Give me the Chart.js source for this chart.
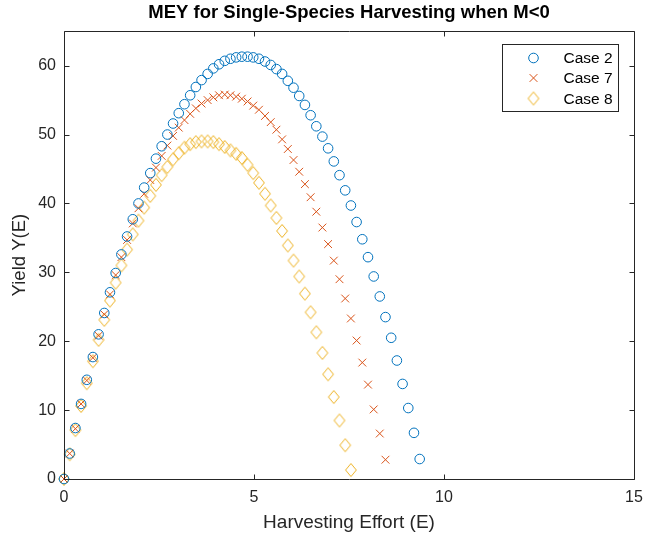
<!DOCTYPE html>
<html>
<head>
<meta charset="utf-8">
<script src="https://cdn.jsdelivr.net/npm/chart.js@4.4.1/dist/chart.umd.min.js"></script>
<style>
  body { margin: 0; background: #fff; }
  #wrap { width: 645px; height: 539px; }
</style>
</head>
<body>
<div id="wrap"><canvas id="mycanvas" width="645" height="539"></canvas></div>
<script>
// harvesting effort E (same step for every case)
var effort = [0, 0.15, 0.30, 0.45, 0.60, 0.76, 0.91, 1.06, 1.21, 1.36,
    1.51, 1.66, 1.81, 1.96, 2.11, 2.27, 2.42, 2.57, 2.72, 2.87,
    3.02, 3.17, 3.32, 3.47, 3.62, 3.78, 3.93, 4.08, 4.23, 4.38,
    4.53, 4.68, 4.83, 4.98, 5.13, 5.29, 5.44, 5.59, 5.74, 5.89,
    6.04, 6.19, 6.34, 6.49, 6.64, 6.80, 6.95, 7.10, 7.25, 7.40,
    7.55, 7.70, 7.85, 8.00, 8.15, 8.31, 8.46, 8.61, 8.76, 8.91,
    9.06, 9.21, 9.36];

var caseTwo = [0, 3.7, 7.4, 10.9, 14.4, 17.7, 21.0, 24.1, 27.1, 29.9,
    32.6, 35.2, 37.7, 40.0, 42.3, 44.4, 46.5, 48.3, 50.0, 51.6,
    53.1, 54.4, 55.7, 56.9, 57.9, 58.8, 59.6, 60.2, 60.7, 61.0,
    61.2, 61.3, 61.3, 61.2, 61.0, 60.6, 60.1, 59.5, 58.8, 57.8,
    56.8, 55.6, 54.3, 52.8, 51.2, 49.7, 48.0, 46.1, 44.1, 41.9,
    39.7, 37.3, 34.8, 32.2, 29.4, 26.5, 23.5, 20.5, 17.2, 13.8,
    10.3, 6.7, 2.9];

var caseSeven = [0, 3.7, 7.3, 10.9, 14.3, 17.6, 20.8, 23.9, 26.8, 29.6,
    32.2, 34.7, 37.1, 39.3, 41.4, 43.4, 45.2, 46.9, 48.4, 49.8,
    51.0, 52.1, 53.0, 53.8, 54.5, 55.0, 55.4, 55.7, 55.8, 55.7,
    55.5, 55.2, 54.8, 54.2, 53.6, 52.7, 51.8, 50.7, 49.3, 47.9,
    46.3, 44.6, 42.8, 40.9, 38.8, 36.5, 34.1, 31.7, 29.0, 26.2,
    23.3, 20.1, 16.9, 13.7, 10.1, 6.6, 2.8];

var caseEight = [0, 3.6, 7.1, 10.6, 13.9, 17.1, 20.2, 23.1, 25.9, 28.5,
    31.0, 33.3, 35.5, 37.5, 39.4, 41.1, 42.7, 44.1, 45.3, 46.4,
    47.3, 48.1, 48.6, 48.9, 49.0, 49.0, 48.9, 48.6, 48.2, 47.7,
    47.2, 46.6, 45.6, 44.4, 43.0, 41.4, 39.7, 37.9, 36.0, 33.9,
    31.7, 29.4, 26.9, 24.2, 21.3, 18.3, 15.2, 11.9, 8.5, 4.9,
    1.3];

var seriesNames = ['Case 2', 'Case 7', 'Case 8'];
var xTickValues = [0, 5, 10, 15];
var yTickValues = [0, 10, 20, 30, 40, 50, 60];

var blue = '#0072BD';
var orange = '#D95319';
var yellow = '#EDB120';
var axisColor = '#262626';
var fontFamily = "'Liberation Sans', Arial, Helvetica, sans-serif";

// matlab style diamond (a bit taller than wide)
var diamond = document.createElement('canvas');
diamond.width = 14;
diamond.height = 16;
(function() {
    var c = diamond.getContext('2d');
    c.strokeStyle = yellow;
    c.lineWidth = 1;
    c.beginPath();
    c.moveTo(7, 1.5);
    c.lineTo(12.4, 8);
    c.lineTo(7, 14.5);
    c.lineTo(1.6, 8);
    c.closePath();
    c.stroke();
})();

function toPoints(vals) {
    var pts = [];
    for (var i = 0; i < vals.length; i++) {
        pts.push({x: effort[i], y: vals[i]});
    }
    return pts;
}

// box round the axes with inward ticks on all four sides
var boxTicks = {
    id: 'boxTicks',
    afterDatasetsDraw: function(chart) {
        var ctx = chart.ctx;
        var a = chart.chartArea;
        var xs = chart.scales.x, ys = chart.scales.y;
        var L = Math.round(a.left) + 0.5, R = Math.round(a.right) + 0.5;
        var T = Math.round(a.top) + 0.5, B = Math.round(a.bottom) + 0.5;
        ctx.save();
        ctx.strokeStyle = axisColor;
        ctx.lineWidth = 1;
        ctx.beginPath();
        ctx.rect(L, T, R - L, B - T);
        xTickValues.forEach(function(v) {
            var px = Math.round(xs.getPixelForValue(v)) + 0.5;
            ctx.moveTo(px, B); ctx.lineTo(px, B - 5);
            ctx.moveTo(px, T); ctx.lineTo(px, T + 5);
        });
        yTickValues.forEach(function(v) {
            var py = Math.round(ys.getPixelForValue(v)) + 0.5;
            ctx.moveTo(L, py); ctx.lineTo(L + 5, py);
            ctx.moveTo(R, py); ctx.lineTo(R - 5, py);
        });
        ctx.stroke();
        ctx.restore();
    }
};

// legend drawn inside the axes, top right, framed like matlab
var boxLegend = {
    id: 'boxLegend',
    afterDraw: function(chart) {
        var ctx = chart.ctx;
        var a = chart.chartArea;
        var w = 116, h = 67;
        var left = Math.round(a.right - 16 - w) + 0.5;
        var top = Math.round(a.top + 13) + 0.5;
        ctx.save();
        ctx.fillStyle = '#fff';
        ctx.fillRect(left, top, w, h);
        ctx.strokeStyle = axisColor;
        ctx.lineWidth = 1;
        ctx.strokeRect(left, top, w, h);
        var mx = left + 31, tx = left + 61;
        var rows = [top + 13.5, top + 33.5, top + 54];
        // circle
        ctx.strokeStyle = blue;
        ctx.beginPath();
        ctx.arc(mx, rows[0], 4.8, 0, Math.PI * 2);
        ctx.stroke();
        // x
        ctx.strokeStyle = orange;
        ctx.beginPath();
        ctx.moveTo(mx - 3.9, rows[1] - 3.9); ctx.lineTo(mx + 3.9, rows[1] + 3.9);
        ctx.moveTo(mx + 3.9, rows[1] - 3.9); ctx.lineTo(mx - 3.9, rows[1] + 3.9);
        ctx.stroke();
        // diamond
        ctx.drawImage(diamond, mx - 7, rows[2] - 8);
        ctx.fillStyle = '#000';
        ctx.font = '15.5px ' + fontFamily;
        ctx.textAlign = 'left';
        ctx.textBaseline = 'middle';
        for (var i = 0; i < seriesNames.length; i++) {
            ctx.fillText(chart.data.datasets[i].label, tx, rows[i] + 1);
        }
        ctx.restore();
    }
};

var chartdata = {
    datasets: [
        {
            label: seriesNames[0],
            data: toPoints(caseTwo),
            pointStyle: 'circle',
            pointRadius: 4.8,
            borderColor: blue,
            backgroundColor: 'rgba(0,0,0,0)',
            borderWidth: 1,
            showLine: false,
            clip: false
        },
        {
            label: seriesNames[1],
            data: toPoints(caseSeven),
            pointStyle: 'crossRot',
            pointRadius: 5.5,
            borderColor: orange,
            backgroundColor: 'rgba(0,0,0,0)',
            borderWidth: 1,
            showLine: false,
            clip: false
        },
        {
            label: seriesNames[2],
            data: toPoints(caseEight),
            pointStyle: diamond,
            pointRadius: 6,
            borderColor: yellow,
            backgroundColor: 'rgba(0,0,0,0)',
            borderWidth: 1,
            showLine: false,
            clip: false
        }
    ]
};

var ctx = document.getElementById('mycanvas');

var scatter = new Chart(ctx, {
    type: 'scatter',
    data: chartdata,
    plugins: [boxTicks, boxLegend],
    options: {
        responsive: false,
        animation: false,
        events: [],
        layout: { padding: { top: 0, right: 11, bottom: 0, left: 0 } },
        plugins: {
            legend: { display: false },
            tooltip: { enabled: false },
            title: {
                display: true,
                text: 'MEY for Single-Species Harvesting when M<0',
                color: '#000',
                fullSize: false,
                font: { family: fontFamily, size: 18.5, weight: 'bold' },
                padding: { top: 2, bottom: 7 }
            }
        },
        scales: {
            x: {
                type: 'linear',
                min: 0,
                max: 15,
                grid: { display: false, drawTicks: false },
                border: { display: false },
                afterFit: function(s) {
                    s.height = 60;
                    s.paddingLeft = 0;
                    s.paddingRight = 0;
                },
                ticks: {
                    stepSize: 5,
                    color: axisColor,
                    padding: 9,
                    maxRotation: 0,
                    font: { family: fontFamily, size: 16 }
                },
                title: {
                    display: true,
                    text: 'Harvesting Effort (E)',
                    color: axisColor,
                    font: { family: fontFamily, size: 19 },
                    padding: { top: 0, bottom: 5 }
                }
            },
            y: {
                type: 'linear',
                min: 0,
                max: 65,
                grid: { display: false, drawTicks: false },
                border: { display: false },
                afterFit: function(s) {
                    s.width = 64;
                    s.paddingTop = 0;
                    s.paddingBottom = 0;
                },
                ticks: {
                    stepSize: 10,
                    includeBounds: false,
                    color: axisColor,
                    padding: 8,
                    font: { family: fontFamily, size: 16 }
                },
                title: {
                    display: true,
                    text: 'Yield Y(E)',
                    color: axisColor,
                    font: { family: fontFamily, size: 18.5 },
                    padding: { top: 9, bottom: 0 }
                }
            }
        }
    }
});
</script>
</body>
</html>
